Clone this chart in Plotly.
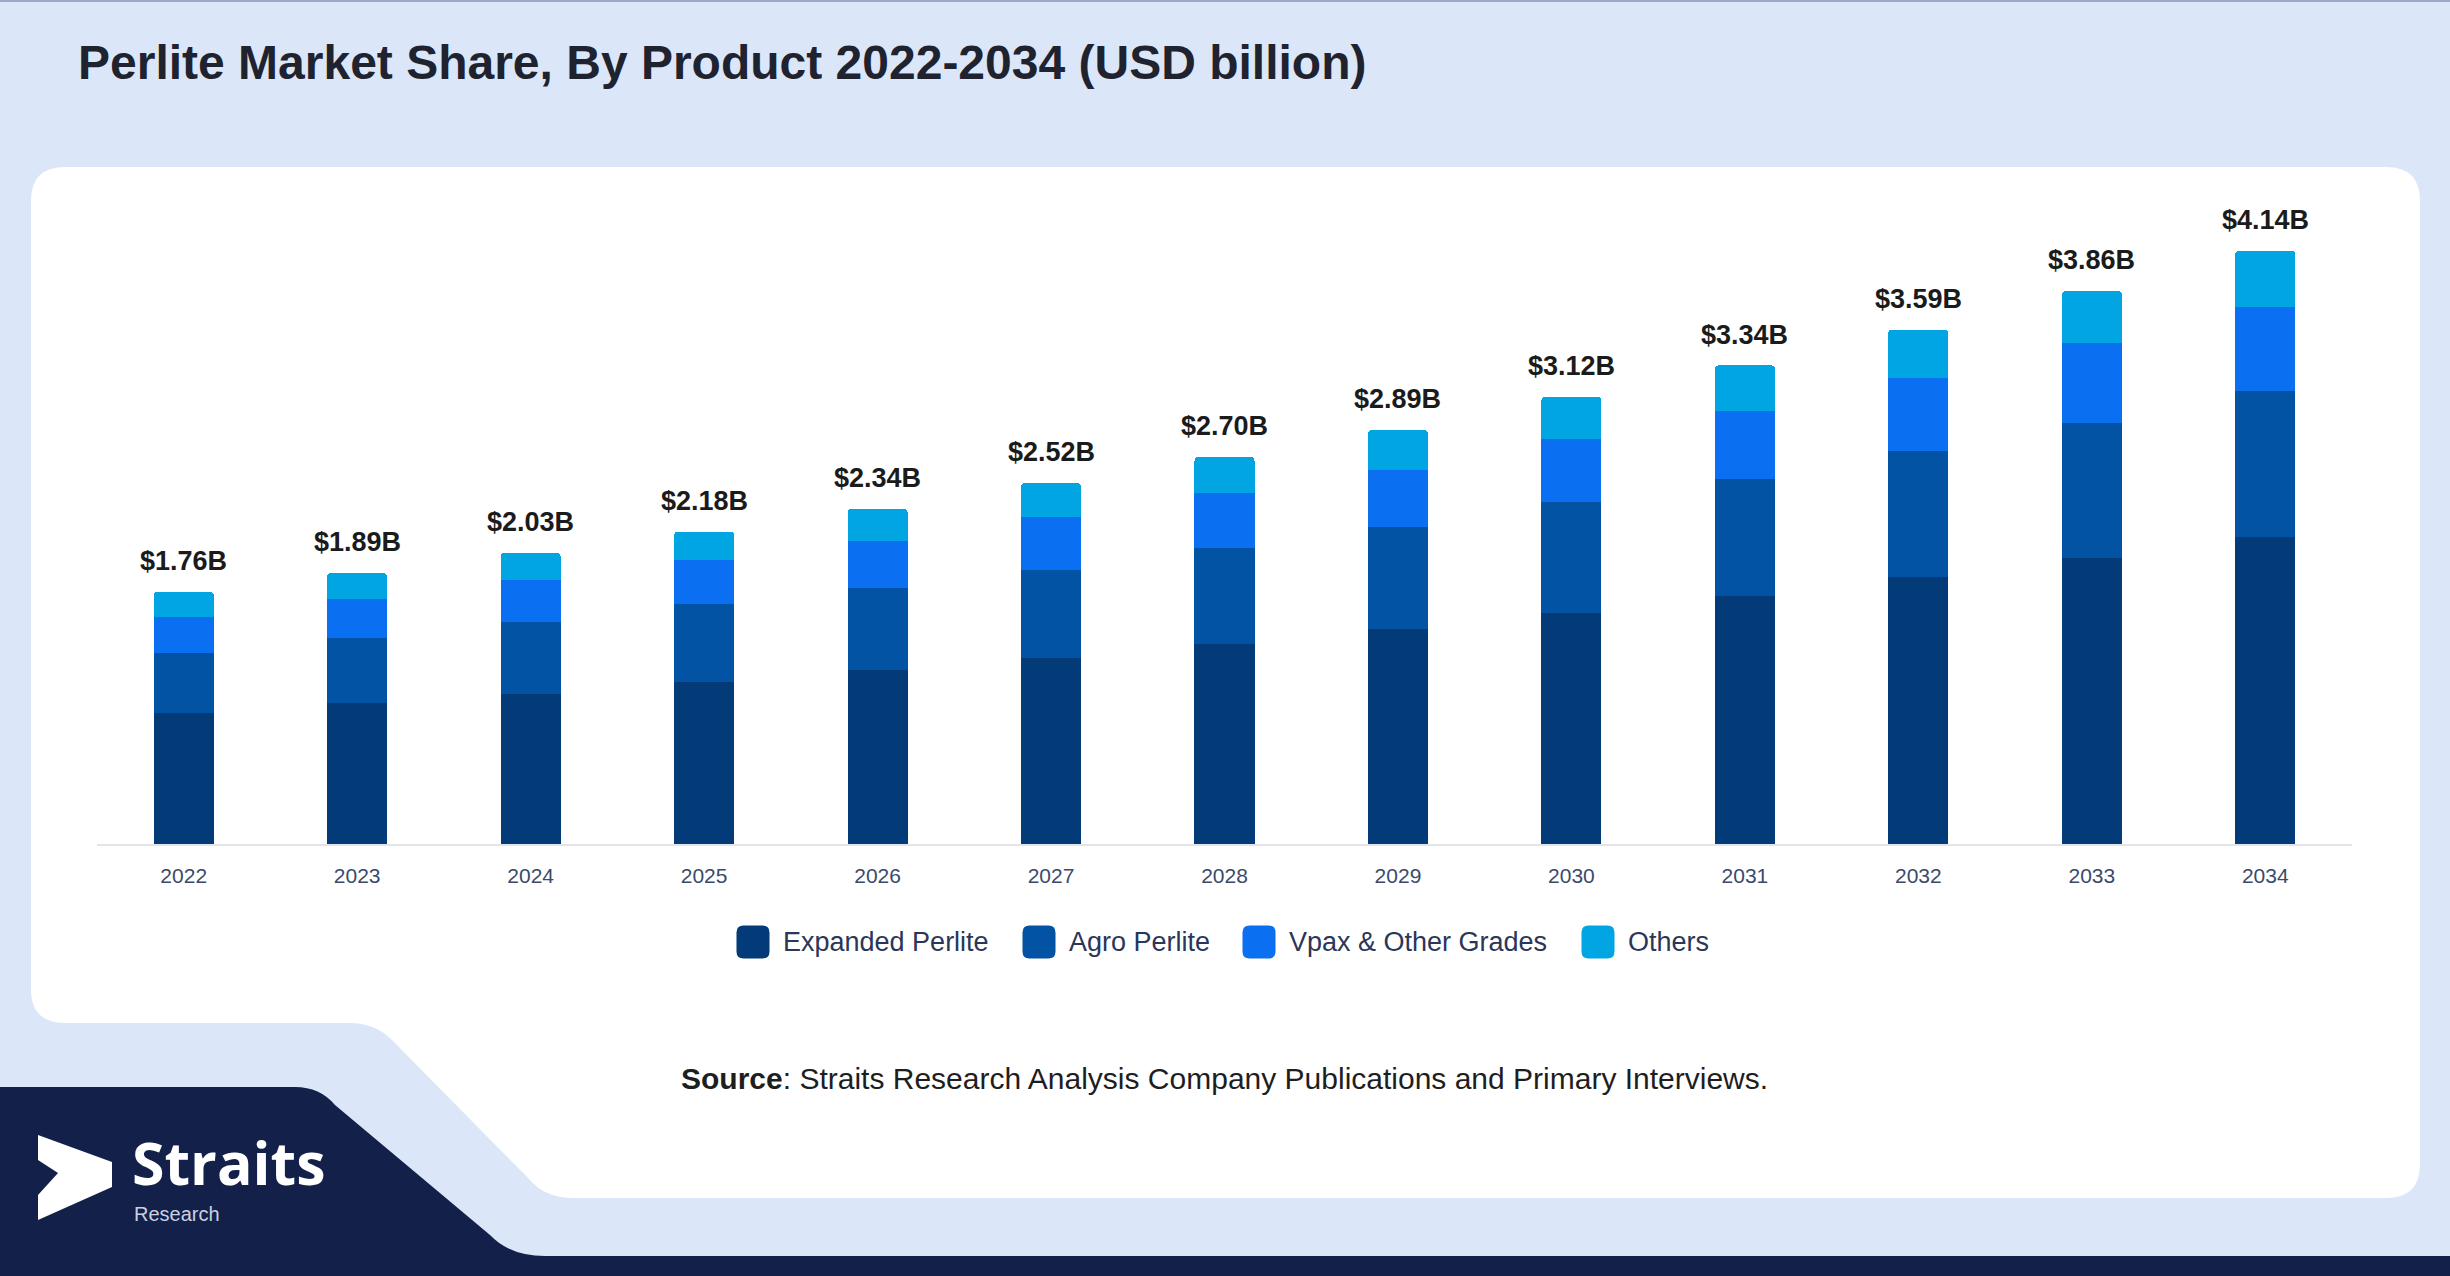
import plotly.graph_objects as go

W, H = 2450, 1276

years = ["2022", "2023", "2024", "2025", "2026", "2027", "2028",
         "2029", "2030", "2031", "2032", "2033", "2034"]
totals = [1.76, 1.89, 2.03, 2.18, 2.34, 2.52, 2.70, 2.89, 3.12, 3.34, 3.59, 3.86, 4.14]

expanded = [0.915, 0.985, 1.047, 1.132, 1.212, 1.301, 1.399, 1.498, 1.612, 1.728, 1.864, 1.998, 2.145]
agro = [0.419, 0.454, 0.503, 0.542, 0.576, 0.615, 0.665, 0.713, 0.773, 0.822, 0.876, 0.943, 1.016]
vpax = [0.251, 0.272, 0.293, 0.309, 0.330, 0.365, 0.388, 0.402, 0.442, 0.473, 0.511, 0.554, 0.589]
others = [0.175, 0.180, 0.190, 0.198, 0.223, 0.239, 0.249, 0.276, 0.293, 0.318, 0.340, 0.364, 0.390]

series_names = ["Expanded Perlite", "Agro Perlite", "Vpax & Other Grades", "Others"]
series_colors = ["#023b78", "#0353a4", "#0a6ff0", "#00a5e2"]

# plot area in page pixels
ML, MR, MT, MB = 97, 98, 185, 432
PW, PH = W - ML - MR, H - MT - MB
BASE = H - MB

# legend swatch centres (page px), drawn by hand to get the big rounded swatches
legend_x = [753, 1039, 1259, 1598]
LEGEND_Y = 942
SW = 33


def px(x):
    return (x - ML) / PW


def py(y):
    return (BASE - y) / PH


def path(points):
    # points in page pixels -> paper path string
    out = []
    for p in points:
        if p[0] == "Q":
            out.append("Q%.5f,%.5f %.5f,%.5f" % (px(p[1]), py(p[2]), px(p[3]), py(p[4])))
        elif p[0] == "Z":
            out.append("Z")
        else:
            out.append("%s%.5f,%.5f" % (p[0], px(p[1]), py(p[2])))
    return " ".join(out)


def rrect(x0, y0, x1, y1, r):
    return path([
        ("M", x0 + r, y0), ("L", x1 - r, y0), ("Q", x1, y0, x1, y0 + r),
        ("L", x1, y1 - r), ("Q", x1, y1, x1 - r, y1),
        ("L", x0 + r, y1), ("Q", x0, y1, x0, y1 - r),
        ("L", x0, y0 + r), ("Q", x0, y0, x0 + r, y0), ("Z",),
    ])


fig = go.Figure()

for name, vals, col in zip(series_names, [expanded, agro, vpax, others], series_colors):
    fig.add_trace(go.Bar(x=years, y=vals, name=name, marker_color=col,
                         marker_line_width=0, showlegend=False, hoverinfo="none"))

# total labels on top of each stack (x as category index)
for i, tot in enumerate(totals):
    fig.add_annotation(x=i, y=tot, text="<b>$%.2fB</b>" % tot, showarrow=False,
                       yanchor="bottom", yshift=14,
                       font=dict(size=27, color="#1b1b1b", family="Liberation Sans, Arial"))

r = 34
panel = path([
    ("M", 31 + r, 167), ("L", 2420 - r, 167), ("Q", 2420, 167, 2420, 167 + r),
    ("L", 2420, 1198 - r), ("Q", 2420, 1198, 2420 - r, 1198),
    ("L", 575, 1198), ("Q", 545, 1198, 530, 1180),
    ("L", 392, 1040), ("Q", 375, 1023, 350, 1023),
    ("L", 31 + r, 1023), ("Q", 31, 1023, 31, 1023 - r),
    ("L", 31, 167 + r), ("Q", 31, 167, 31 + r, 167), ("Z",),
])
navy = path([
    ("M", 0, 1087), ("L", 295, 1087), ("Q", 320, 1087, 335, 1105),
    ("L", 490, 1235), ("Q", 510, 1256, 545, 1256),
    ("L", W, 1256), ("L", W, H), ("L", 0, H), ("Z",),
])
logo = path([
    ("M", 38, 1135), ("L", 112, 1162), ("L", 112, 1187), ("L", 38, 1220),
    ("L", 38, 1195), ("L", 58, 1173), ("L", 38, 1160), ("Z",),
])

shapes = [
    dict(type="path", path=panel, xref="paper", yref="paper", fillcolor="white",
         line_width=0, layer="below"),
    dict(type="path", path=navy, xref="paper", yref="paper", fillcolor="#13204a",
         line_width=0, layer="below"),
    dict(type="path", path=logo, xref="paper", yref="paper", fillcolor="white",
         line_width=0, layer="above"),
    dict(type="line", x0=px(0), x1=px(W), y0=py(1), y1=py(1), xref="paper", yref="paper",
         line=dict(color="#9aa8c6", width=2), layer="below"),
]

# legend
for name, col, cx in zip(series_names, series_colors, legend_x):
    shapes.append(dict(type="path", xref="paper", yref="paper", fillcolor=col, line_width=0,
                       path=rrect(cx - SW / 2, LEGEND_Y - SW / 2, cx + SW / 2, LEGEND_Y + SW / 2, 7)))
    fig.add_annotation(xref="paper", yref="paper", x=px(cx + 28), y=py(LEGEND_Y),
                       xanchor="left", yanchor="middle", showarrow=False, text=name,
                       font=dict(size=27, color="#2b3658", family="Liberation Sans, Arial"))

# logo text
fig.add_annotation(xref="paper", yref="paper", x=px(130), y=py(1162), xanchor="left",
                   yanchor="middle", showarrow=False, text="<b>Straits</b>",
                   font=dict(size=59, color="white", family="Open Sans, Liberation Sans"))
fig.add_annotation(xref="paper", yref="paper", x=px(132), y=py(1214), xanchor="left",
                   yanchor="middle", showarrow=False, text="Research",
                   font=dict(size=20, color="#c8d0e2", family="Liberation Sans"))
fig.add_annotation(xref="paper", yref="paper", x=0.5, y=py(1078), xanchor="center",
                   yanchor="middle", showarrow=False,
                   text="<b>Source</b>: Straits Research Analysis Company Publications and Primary Interviews.",
                   font=dict(size=30, color="#1e1e1e", family="Liberation Sans, Arial"))

fig.update_layout(
    width=W, height=H,
    margin=dict(l=ML, r=MR, t=MT, b=MB),
    paper_bgcolor="#dbe7f8",
    plot_bgcolor="rgba(0,0,0,0)",
    barmode="stack",
    bargap=0.654,
    barcornerradius=4,
    showlegend=False,
    font=dict(family="Liberation Sans, Arial"),
    title=dict(text="<b>Perlite Market Share, By Product 2022-2034 (USD billion)</b>",
               x=78 / W, xanchor="left", y=1 - 62 / H, yanchor="middle",
               font=dict(size=48, color="#1f2330")),
    xaxis=dict(type="category", categoryorder="array", categoryarray=years,
               range=[-0.5, len(years) - 0.5],
               showline=True, linecolor="#e2e4e8", linewidth=2,
               showgrid=False, ticks="", ticklabelstandoff=12,
               tickfont=dict(size=21, color="#3b4a6b")),
    yaxis=dict(visible=False, range=[0, 4.6], showgrid=False),
    shapes=shapes,
)

fig.write_html("out.html", config={"displayModeBar": False},
               post_script="document.body.style.margin='0';document.body.style.overflow='hidden';")
